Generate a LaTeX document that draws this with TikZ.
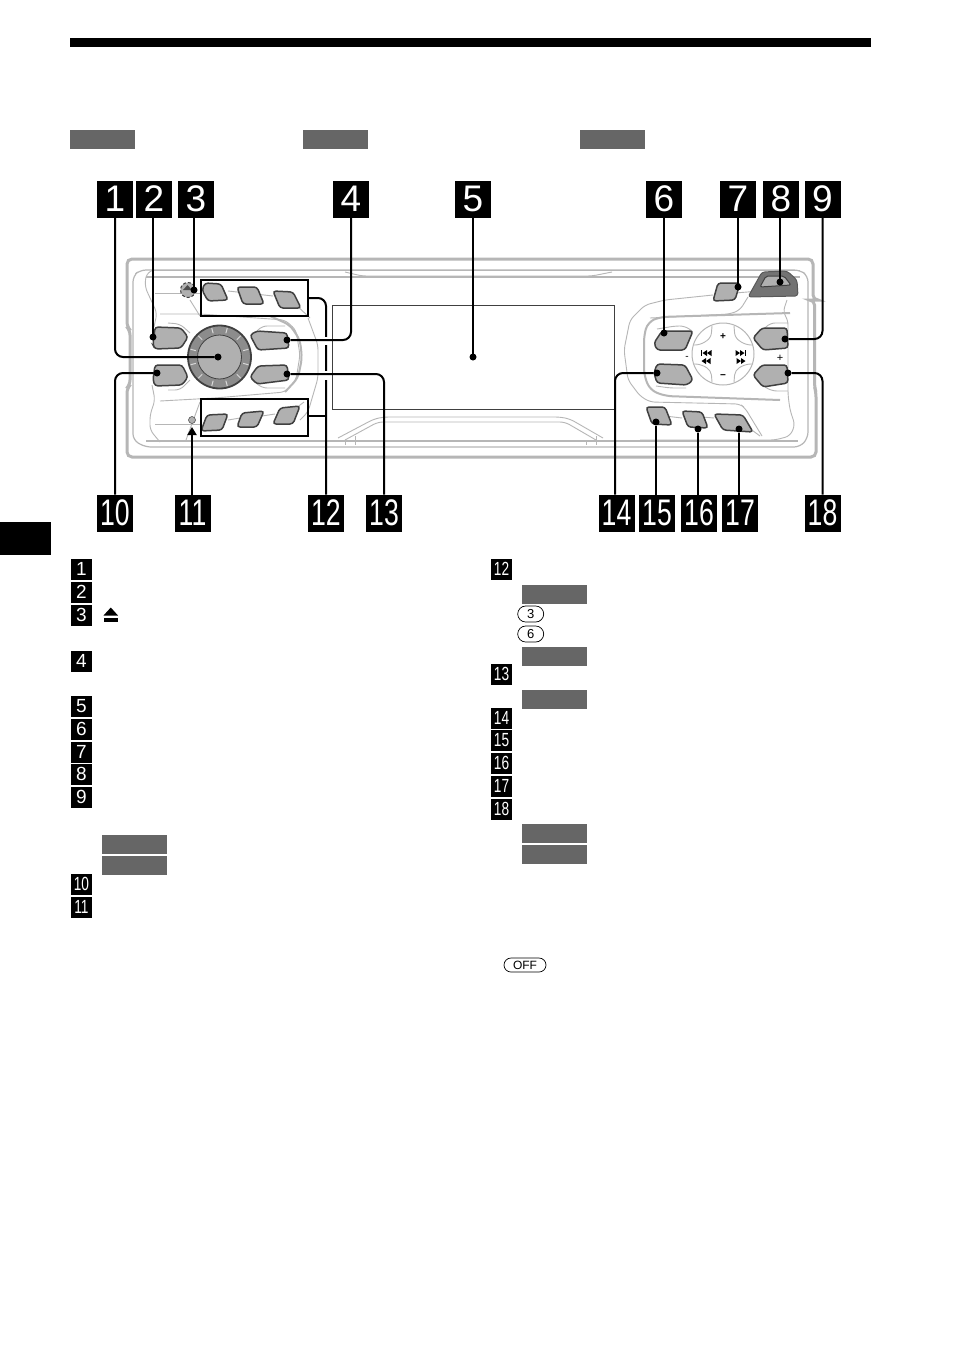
\documentclass[tikz,border=0pt]{standalone}
\usepackage{fontspec}
\usepackage{graphicx}
\usetikzlibrary{shapes.misc,calc,arrows.meta}
\setmainfont{Liberation Sans}
\definecolor{lg}{HTML}{B6B6B6}
\definecolor{bfill}{HTML}{B0B0B0}
\definecolor{bedge}{HTML}{404040}
\definecolor{tag}{HTML}{666666}
\newcommand{\bigdig}[1]{\fontsize{37}{37}\selectfont #1}
\newcommand{\bigtwo}[1]{\fontsize{37}{37}\selectfont\scalebox{0.72}[1]{#1}}
\newcommand{\smdig}[1]{\fontsize{19}{19}\selectfont #1}
\newcommand{\smtwo}[1]{\fontsize{19}{19}\selectfont\scalebox{0.72}[1]{#1}}
\tikzset{
  x=1pt,y=-1pt,
  bigbadge/.style={fill=black,text=white,minimum width=36pt,minimum height=37pt,inner sep=0pt,outer sep=0pt,text depth=0pt},
  smbadge/.style={fill=black,text=white,minimum size=21pt,inner sep=0pt,outer sep=0pt},
  tagbox/.style={fill=tag,draw=none,minimum width=65pt,minimum height=19pt,inner sep=0pt,anchor=north west},
  btn/.style={fill=bfill,draw=bedge,line width=1.5pt,rounded corners=3pt},
  conn/.style={draw=black,line width=2pt,rounded corners=8pt},
  dotn/.style={circle,fill=black,minimum size=7pt,inner sep=0pt,outer sep=0pt},
  body/.style={draw=lg,line width=1.2pt,rounded corners=6pt},
  bodythick/.style={draw=lg,line width=3pt,rounded corners=5pt},
  thinl/.style={draw=lg,line width=0.9pt,rounded corners=5pt},
  pill/.style={draw=black,line width=0.7pt,rounded rectangle,inner sep=0pt,font=\fontsize{13}{13}\selectfont},
  selbox/.style={draw=black,line width=2pt},
}
\begin{document}
\begin{tikzpicture}
\useasboundingbox (0,0) rectangle (954,1355);
\fill[white] (0,0) rectangle (954,1355);
% page furniture
\fill[black] (70,38) rectangle (871,47);
\fill[black] (0,522) rectangle (51,555);
\node[tagbox] (t1) at (70,129.5) {};
\node[tagbox] (t2) at (303,129.5) {};
\node[tagbox] (t3) at (580,129.5) {};
% body outline
\draw[bodythick] (127,259) -- (813,259) -- (813,300) -- (814.5,300) -- (814.5,387) -- (816,392) -- (816,457) -- (127,457) -- (127,388) -- (130,385) -- (130,330) -- (127,327) -- cycle;
\draw[body] (153,270) -- (800,270) -- (808,276) -- (808,438) -- (800,447) -- (145,447) -- (133,440) -- (133,276) -- (140,270) -- cycle;
\draw[thinl] (153,270) -- (800,270);
\draw[body] (146,277) -- (800,277);
\draw[body] (146,441) -- (798,441);
% top slot
\draw[thinl] (345,272) -- (362,276) -- (592,276) -- (612,272);
% bottom slot
\draw[thinl] (338,438) -- (374,419) -- (384,417) -- (560,417) -- (570,419) -- (603,438);
\draw[thinl] (345,440) -- (378,422) -- (565,422) -- (596,440);
\draw[thinl] (345,440) -- (345,445); \draw[thinl] (586,440) -- (586,445);
\draw[thinl] (355,436) -- (355,445); \draw[thinl] (596,436) -- (596,445);
% left panel contour
\draw[thinl] (153,270) -- (146,274) -- (145,287) -- (157,313) -- (154,327);
\draw[thinl] (152,385) -- (155,400) -- (150,415) -- (150,430) -- (160,442);
\draw[thinl] (155,293) -- (200,293);
\draw[thinl] (160,314) -- (200,314) -- (285,320) -- (296,330) -- (300,355) -- (296,380) -- (285,392) -- (215,398) -- (160,401);
\draw[draw=lg,line width=2pt,rounded corners=6pt] (270,316) -- (290,325) -- (300,340) -- (302,358) -- (298,378) -- (285,392);
\draw[thinl] (155,424) -- (200,424);
\draw[thinl] (200,316) -- (190,300);
\draw[thinl] (186,440) -- (200,402);
\draw[thinl] (168,323) -- (180,324) -- (190,333);
\draw[thinl] (168,390) -- (180,390) -- (190,380);
\draw[thinl] (255,333) -- (262,326) -- (285,326);
\draw[thinl] (255,382) -- (262,388) -- (285,388);
% left arc to right of top row
\draw[thinl] (308,318) -- (318,345) -- (318,378) -- (308,412) -- (300,420);
\draw[thinl] (228,291) -- (273,296);
\draw[thinl] (293,302) -- (310,318);
\draw[thinl] (228,420) -- (240,418); \draw[thinl] (262,416) -- (275,414); \draw[thinl] (296,408) -- (304,402);
% right panel contour
\draw[thinl] (713,295) -- (665,300) -- (645,305) -- (630,320) -- (624,350) -- (628,380) -- (640,396) -- (650,402) -- (740,404) -- (745,408) -- (762,436);
\draw[thinl] (735,293) -- (760,291);
\draw[thinl] (748,297) -- (740,310) -- (730,314) -- (650,318);
\draw[draw=lg,line width=2pt,rounded corners=7pt] (790,313) -- (660,317) -- (648,322) -- (644,335) -- (644,375) -- (650,390) -- (665,396) -- (780,400);
\draw[thinl] (787,300) -- (783,312) -- (788,320) -- (788,395) -- (790,410) -- (795,425) -- (790,436) -- (775,440) -- (640,440);
\draw[thinl] (657,329) -- (675,326) -- (685,326) -- (692,331);
\draw[thinl] (656,386) -- (670,388) -- (686,388);
\draw[thinl] (765,328) -- (770,323) -- (788,323);
\draw[thinl] (765,387) -- (772,391) -- (788,391);
\draw[thinl] (665,416) -- (682,418);\draw[thinl] (702,417) -- (714,418);\draw[thinl] (745,425) -- (760,436);
% joystick pad
\draw[draw=lg,line width=1pt] (723,354) circle (31);
\draw[thinl] (712,326) -- (711,338) -- (700,345) -- (693,345);
\draw[thinl] (734,326) -- (735,338) -- (746,345) -- (753,345);
\draw[thinl] (712,382) -- (711,370) -- (700,364) -- (693,364);
\draw[thinl] (734,382) -- (735,370) -- (746,364) -- (753,364);
% display
\draw[draw=bedge,line width=0.8pt] (332.5,305) rectangle (614.5,409);
% dial
\draw[fill=black!45,draw=bedge,line width=1.8pt] (219.5,357) circle (31.5);
\draw[fill=bfill,draw=bedge,line width=0.8pt] (219.5,357) circle (22);
\foreach \a in {0,30,...,330}
  \draw[draw=white!85!black,line width=1pt] ($(219.5,357)+(\a+15:24.5)$) -- ($(219.5,357)+(\a+15:30)$);
% buttons
\draw[btn] (205,283) -- (221,284) -- (228,300) -- (208,301) -- (202,290) -- cycle;
\draw[btn] (237,287) -- (257,287) -- (264,304) -- (243,304) -- cycle;
\draw[btn] (273,291) -- (293,292) -- (301,308) -- (280,308) -- cycle;
\draw[btn] (207,415) -- (228,414) -- (222,430) -- (201,431) -- cycle;
\draw[btn] (242,413) -- (264,411) -- (257,427) -- (237,427) -- cycle;
\draw[btn] (280,408) -- (300,406) -- (293,424) -- (273,424) -- cycle;
\draw[btn] (155,327) -- (181,328) -- (188,337) -- (181,348) -- (155,349) -- (153,345) -- cycle;
\draw[btn] (155,365) -- (182,365) -- (188,377) -- (182,385) -- (155,386) -- (153,380) -- cycle;
\draw[btn] (250,335) -- (257,331) -- (287,333) -- (289,348) -- (258,350) -- cycle;
\draw[btn] (250,377) -- (258,366) -- (287,365) -- (289,380) -- (257,384) -- cycle;
\draw[btn] (662,331) -- (693,331) -- (685,350) -- (657,350) -- (654,343) -- cycle;
\draw[btn] (657,364) -- (685,365) -- (693,380) -- (687,385) -- (657,383) -- (654,373) -- cycle;
\draw[btn] (762,328) -- (787,328) -- (788,348) -- (763,350) -- (753,338) -- cycle;
\draw[btn] (762,365) -- (787,365) -- (788,383) -- (763,387) -- (753,375) -- cycle;
\draw[btn] (718,283) -- (740,283) -- (735,300) -- (713,301) -- cycle;
\draw[btn] (646,407) -- (665,407) -- (672,425) -- (652,424) -- cycle;
\draw[btn] (682,411) -- (702,412) -- (708,428) -- (688,427) -- cycle;
\draw[btn] (714,414) -- (743,415) -- (753,432) -- (723,430) -- cycle;
% slot button 8
\draw[fill=black!55,draw=black!65,line width=1pt,rounded corners=3pt] (762,272) -- (787,271) -- (797,280) -- (798,296) -- (748,297) -- cycle;
\draw[fill=bfill,draw=bedge,line width=1pt,rounded corners=2pt] (766,276) -- (784,276) -- (791,285) -- (760,287) -- cycle;
% eject button 3 and reset 11
\draw[fill=bfill,draw=bedge,line width=1pt,densely dashed] (188,290) circle (7.5);
\fill[black!70] (183,290) -- (187.5,285) -- (192,290) -- cycle;
\fill[bfill] (192,420) circle (3.5);
\draw[bedge,line width=0.5pt] (192,420) circle (3.5);
% pad symbols
\node[font=\bfseries\fontsize{10}{10}\selectfont,inner sep=0pt] (plus) at (723,337) {+};
\node[font=\bfseries\fontsize{10}{10}\selectfont,inner sep=0pt] (minus) at (723,376.5) {−};
\node[font=\fontsize{10}{10}\selectfont,inner sep=0pt] (lmin) at (687,357.5) {-};
\node[font=\fontsize{11}{11}\selectfont,inner sep=0pt] (rplus) at (780,358) {+};
\foreach \sx/\cx in {-1/706,1/741}{
  \fill[black] (\cx-\sx*5.5,350) -- (\cx-\sx*1,353) -- (\cx-\sx*5.5,356) -- cycle;
  \fill[black] (\cx-\sx*1,350) -- (\cx+\sx*3.5,353) -- (\cx-\sx*1,356) -- cycle;
  \fill[black] (\cx+\sx*3.7,350) rectangle (\cx+\sx*4.8,356);
  \fill[black] (\cx-\sx*4.5,358) -- (\cx,361) -- (\cx-\sx*4.5,364) -- cycle;
  \fill[black] (\cx,358) -- (\cx+\sx*4.5,361) -- (\cx,364) -- cycle;
}
% selection boxes
\node[selbox,minimum width=107pt,minimum height=36pt,inner sep=0pt,outer sep=0pt,anchor=north west] (top6) at (201,280) {};
\node[selbox,minimum width=107pt,minimum height=37pt,inner sep=0pt,outer sep=0pt,anchor=north west] (bot6) at (201,399) {};
% big badges
\node[bigbadge] (b1) at (115,199) {\bigdig{1}};
\node[bigbadge] (b2) at (154,199) {\bigdig{2}};
\node[bigbadge] (b3) at (196,199) {\bigdig{3}};
\node[bigbadge] (b4) at (351,199) {\bigdig{4}};
\node[bigbadge] (b5) at (473,199) {\bigdig{5}};
\node[bigbadge] (b6) at (664,199) {\bigdig{6}};
\node[bigbadge] (b7) at (738,199) {\bigdig{7}};
\node[bigbadge] (b8) at (781,199) {\bigdig{8}};
\node[bigbadge] (b9) at (822.5,199) {\bigdig{9}};
\node[bigbadge] (b10) at (115,513) {\bigtwo{10}};
\node[bigbadge] (b11) at (192.5,513) {\bigtwo{11}};
\node[bigbadge] (b12) at (326,513) {\bigtwo{12}};
\node[bigbadge] (b13) at (384,513) {\bigtwo{13}};
\node[bigbadge] (b14) at (616.5,513) {\bigtwo{14}};
\node[bigbadge] (b15) at (657,513) {\bigtwo{15}};
\node[bigbadge] (b16) at (699,513) {\bigtwo{16}};
\node[bigbadge] (b17) at (740,513) {\bigtwo{17}};
\node[bigbadge] (b18) at (822.5,513) {\bigtwo{18}};
% dots
\node[dotn] (d1) at (218,357) {};
\node[dotn] (d2) at (153,337) {};
\node[dotn] (d3) at (194,290) {};
\node[dotn] (d4) at (287,340) {};
\node[dotn] (d5) at (473,357) {};
\node[dotn] (d6) at (664,333) {};
\node[dotn] (d7) at (738,287) {};
\node[dotn] (d8) at (780,282) {};
\node[dotn] (d9) at (785,339) {};
\node[dotn] (d10) at (157,373) {};
\node[dotn] (d13) at (287,374) {};
\node[dotn] (d14) at (657,373) {};
\node[dotn] (d15) at (656,422) {};
\node[dotn] (d16) at (698,429) {};
\node[dotn] (d17) at (739,429) {};
\node[dotn] (d18) at (788,373) {};
\coordinate (a11) at (192,427);
% connector 12 first: crossings cut it
\draw[conn] (b12.north) -- (326,298) -- (top6.east |- 0,298);
\draw[conn,rounded corners=0pt] (bot6.east |- 0,416) -- (326,416);
\draw[white,line width=3pt] (326,336.5) -- (326,345);
\draw[white,line width=3pt] (326,371) -- (326,380);
% connectors
\draw[conn] (b1.south) -- (115,357) -- (d1);
\draw[conn] (b2.south -| d2) -- (d2);
\draw[conn] (b3.south -| d3) -- (d3);
\draw[conn] (b4.south) -- (351,340) -- (d4);
\draw[conn] (b5.south) -- (d5);
\draw[conn] (b6.south) -- (d6);
\draw[conn] (b7.south) -- (d7);
\draw[conn] (b8.south -| d8) -- (d8);
\draw[conn] (b9.south) -- (822.5,339) -- (d9);
\draw[conn] (b10.north) -- (115,373) -- (d10);
\draw[line width=2pt,-{Triangle[length=8pt,width=9pt]}] (b11.north -| a11) -- (a11);
\draw[conn] (b13.north) -- (384,374) -- (d13);
\draw[conn] (b14.north -| 615,0) -- (615,373) -- (d14);
\draw[conn] (b15.north -| d15) -- (d15);
\draw[conn] (b16.north -| d16) -- (d16);
\draw[conn] (b17.north -| d17) -- (d17);
\draw[conn] (b18.north) -- (822.5,373) -- (d18);
% legend small badges
\node[smbadge] (s1) at (81.5,569) {\smdig{1}};
\node[smbadge] (s2) at (81.5,592) {\smdig{2}};
\node[smbadge] (s3) at (81.5,615) {\smdig{3}};
\node[smbadge] (s4) at (81.5,661) {\smdig{4}};
\node[smbadge] (s5) at (81.5,706) {\smdig{5}};
\node[smbadge] (s6) at (81.5,729) {\smdig{6}};
\node[smbadge] (s7) at (81.5,752) {\smdig{7}};
\node[smbadge] (s8) at (81.5,774) {\smdig{8}};
\node[smbadge] (s9) at (81.5,797) {\smdig{9}};
\node[smbadge] (s10) at (81.5,884) {\smtwo{10}};
\node[smbadge] (s11) at (81.5,907) {\smtwo{11}};
\node[smbadge] (s12) at (501.5,569) {\smtwo{12}};
\node[smbadge] (s13) at (501.5,674) {\smtwo{13}};
\node[smbadge] (s14) at (501.5,718) {\smtwo{14}};
\node[smbadge] (s15) at (501.5,740) {\smtwo{15}};
\node[smbadge] (s16) at (501.5,763) {\smtwo{16}};
\node[smbadge] (s17) at (501.5,786) {\smtwo{17}};
\node[smbadge] (s18) at (501.5,809) {\smtwo{18}};
% eject mark
\fill[black] (103.5,615.5) -- (110.8,607.5) -- (118,615.5) -- cycle;
\fill[black] (103.5,618) rectangle (118,622);
% legend tags
\node[tagbox] (g1) at (102,835) {};
\node[tagbox] (g2) at (102,856) {};
\node[tagbox] (g3) at (522,585) {};
\node[tagbox] (g4) at (522,647) {};
\node[tagbox] (g5) at (522,690) {};
\node[tagbox] (g6) at (522,824) {};
\node[tagbox] (g7) at (522,845) {};
% pills
\node[pill,minimum width=26pt,minimum height=16pt] (p3) at (530.7,614) {3};
\node[pill,minimum width=26pt,minimum height=16pt] (p6) at (530.7,634) {6};
\node[pill,minimum width=42pt,minimum height=14pt,font=\fontsize{12}{12}\selectfont] (poff) at (525,965) {OFF};
\end{tikzpicture}
\end{document}
